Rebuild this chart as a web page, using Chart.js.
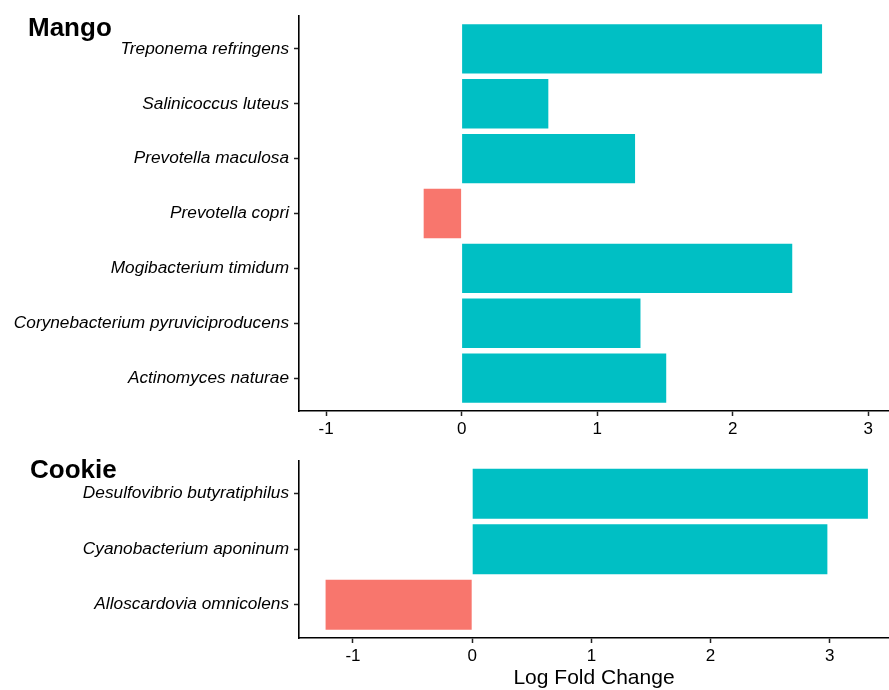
<!DOCTYPE html>
<html>
<head>
<meta charset="utf-8">
<script src="https://cdn.jsdelivr.net/npm/chart.js@4/dist/chart.umd.min.js"></script>
<style>
  html, body { margin: 0; padding: 0; background: #fff; }
  #wrap { position: relative; width: 889px; height: 690px; overflow: hidden; font-family: "Liberation Sans", Arial, sans-serif; }
  .panel { position: absolute; left: 0; width: 889px; }
  .panel canvas { display: block; }
  .ptitle { position: absolute; font-weight: bold; font-size: 26px; color: #000; line-height: 1; }
</style>
</head>
<body>
<div id="wrap">
  <div class="panel" style="top:0;height:445px;"><canvas id="mango" width="889" height="445"></canvas></div>
  <div class="panel" style="top:445px;height:245px;"><canvas id="cookie" width="889" height="245"></canvas></div>
  <div class="ptitle" style="left:28px;top:14px;">Mango</div>
  <div class="ptitle" style="left:30px;top:456px;">Cookie</div>
</div>
<script>
// Differentially abundant taxa (log fold change) per food group, listed top to bottom
const mangoTaxa = [
  "Treponema refringens",
  "Salinicoccus luteus",
  "Prevotella maculosa",
  "Prevotella copri",
  "Mogibacterium timidum",
  "Corynebacterium pyruviciproducens",
  "Actinomyces naturae"
];
const mangoLFC = [2.66, 0.64, 1.28, -0.28, 2.44, 1.32, 1.51];

const cookieTaxa = [
  "Desulfovibrio butyratiphilus",
  "Cyanobacterium aponinum",
  "Alloscardovia omnicolens"
];
const cookieLFC = [3.32, 2.98, -1.23];

const xTickValues = [-1, 0, 1, 2, 3];

const UP = "#00BFC4", DOWN = "#F8766D";
const FONT = "'Liberation Sans', Arial, sans-serif";

function panel(canvasId, taxa, lfc, xMin, xMax, padTop, axisHeight, showTitle) {
  const points = lfc.map((v, i) => ({ x: v, y: i }));
  return new Chart(document.getElementById(canvasId), {
    type: "bar",
    data: {
      datasets: [{
        data: points,
        backgroundColor: lfc.map(v => v >= 0 ? UP : DOWN),
        borderWidth: 0,
        barPercentage: 0.9,
        categoryPercentage: 1.0
      }]
    },
    options: {
      indexAxis: "y",
      responsive: false,
      animation: false,
      devicePixelRatio: 1,
      layout: { padding: { top: padTop, left: 0, right: 0, bottom: 0 } },
      plugins: { legend: { display: false }, tooltip: { enabled: false } },
      scales: {
        y: {
          type: "linear",
          reverse: true,
          offset: false,
          min: -0.6,
          max: taxa.length - 1 + 0.6,
          afterBuildTicks: s => { s.ticks = taxa.map((_, i) => ({ value: i })); },
          afterFit: s => { s.width = 299; },
          ticks: {
            callback: v => taxa[v],
            color: "#000",
            padding: 5,
            font: { family: FONT, size: 17.25, style: "italic" }
          },
          grid: { offset: false, drawOnChartArea: false, drawTicks: true, tickLength: 5, tickColor: "#222", tickWidth: 1.5 },
          border: { display: true, color: "#000", width: 1.6 }
        },
        x: {
          type: "linear",
          min: xMin,
          max: xMax,
          afterBuildTicks: s => { s.ticks = xTickValues.map(v => ({ value: v })); },
          afterFit: s => { s.height = axisHeight; },
          ticks: {
            color: "#000",
            padding: 3,
            font: { family: FONT, size: 17 }
          },
          grid: { drawOnChartArea: false, drawTicks: true, tickLength: 5, tickColor: "#222", tickWidth: 1.5 },
          border: { display: true, color: "#000", width: 1.6 },
          title: {
            display: showTitle,
            text: "Log Fold Change",
            color: "#000",
            font: { family: FONT, size: 21, lineHeight: 1.0 },
            padding: { top: 0, bottom: 1 }
          }
        }
      }
    }
  });
}

panel("mango", mangoTaxa, mangoLFC, -1.2, 3.154, 16, 34, false);
panel("cookie", cookieTaxa, cookieLFC, -1.453, 3.497, 14, 52, true);
</script>
</body>
</html>
